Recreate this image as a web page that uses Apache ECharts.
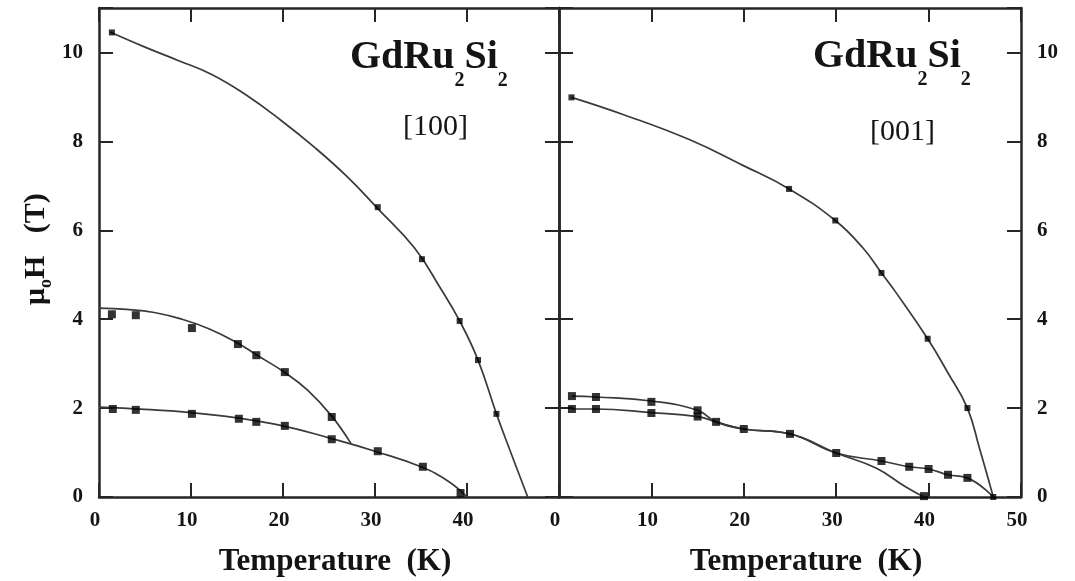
<!DOCTYPE html>
<html>
<head>
<meta charset="utf-8">
<script src="https://cdn.jsdelivr.net/npm/echarts@6/dist/echarts.min.js"></script>
<style>
html, body { margin: 0; padding: 0; background: #fff; }
#main { width: 1075px; height: 581px; }
</style>
</head>
<body>
<div id="main"></div>
<script>
var FONT = '"Liberation Serif", "DejaVu Serif", serif';
var INK = '#141414';
var LINE = '#3a3a3a';

// [100] panel (left)
var leftHighT = [1.4, 30.3, 35.1, 39.2, 41.2, 43.2];
var leftHighH = [10.45, 6.52, 5.35, 3.96, 3.08, 1.87];
var leftHighFitT = [1.2, 5.0, 8.6, 12.2, 15.8, 19.8, 23.4, 27.0, 30.2, 34.3, 37.1, 39.2, 41.2, 43.2, 44.8, 46.6];
var leftHighFitH = [10.46, 10.12, 9.82, 9.51, 9.07, 8.47, 7.87, 7.2, 6.51, 5.6, 4.7, 3.96, 3.08, 1.87, 0.98, 0];

var leftMidT = [1.4, 4.0, 10.1, 15.1, 17.1, 20.2, 25.3];
var leftMidH = [4.11, 4.09, 3.80, 3.44, 3.19, 2.81, 1.80];
var leftMidFitT = [0, 3, 6, 9, 12, 15.1, 17.1, 20.2, 22.7, 25.3, 27.4];
var leftMidFitH = [4.25, 4.22, 4.15, 4.0, 3.78, 3.46, 3.2, 2.8, 2.4, 1.82, 1.2];

var leftLowT = [1.5, 4.0, 10.1, 15.2, 17.1, 20.2, 25.3, 30.3, 35.2, 39.3];
var leftLowH = [1.98, 1.96, 1.87, 1.76, 1.69, 1.60, 1.30, 1.03, 0.68, 0.09];
var leftLowFitT = [0, 5, 10, 15, 20, 25, 30, 35, 38, 40];
var leftLowFitH = [2.02, 1.97, 1.9, 1.78, 1.6, 1.33, 1.03, 0.68, 0.35, 0];

// [001] panel (right)
var rightHighT = [1.35, 24.9, 29.9, 34.9, 39.9, 44.2, 47.0];
var rightHighH = [8.99, 6.93, 6.22, 5.04, 3.56, 2.0, 0.0];
var rightHighFitT = [1.35, 7.0, 14.1, 19.9, 24.9, 29.9, 32.9, 34.9, 36.4, 39.9, 42.1, 44.2, 45.5, 47.0];
var rightHighFitH = [8.99, 8.6, 8.04, 7.46, 6.93, 6.22, 5.6, 5.04, 4.62, 3.56, 2.79, 2.0, 1.1, 0];

var rightUpT = [1.4, 4.0, 10.0, 15.0];
var rightUpH = [2.27, 2.25, 2.14, 1.95];
var rightLoT = [1.4, 4.0, 10.0, 15.0, 39.5];
var rightLoH = [1.98, 1.98, 1.89, 1.81, 0.02];
var rightMidT = [17.0, 20.0, 25.0, 30.0, 34.9, 37.9, 40.0, 42.1, 44.2];
var rightMidH = [1.69, 1.53, 1.42, 0.99, 0.81, 0.68, 0.63, 0.50, 0.43];

var rightUpFitT = [1.4, 4.0, 10.0, 15.0, 17.0, 20.0, 25.0, 30.0, 34.9, 37.9, 40.0, 42.1, 44.2, 47.0];
var rightUpFitH = [2.27, 2.25, 2.16, 1.95, 1.69, 1.53, 1.42, 0.99, 0.81, 0.68, 0.63, 0.50, 0.43, 0];
var rightLoFitT = [1.4, 4.0, 10.0, 15.0, 17.0, 20.0, 25.0, 30.0, 34.3, 37.5, 39.5];
var rightLoFitH = [1.98, 1.98, 1.9, 1.81, 1.69, 1.53, 1.42, 0.99, 0.65, 0.23, 0];

var xTicks = { min: 0, max: 50, interval: 10 };
var yTicks = { min: 0, max: 11, interval: 2 };

function pairs(xs, ys) {
	return xs.map(function (x, i) { return [x, ys[i]]; });
}

var axisLine = { show: true, onZero: false, lineStyle: { color: '#262626', width: 2.5 } };
var axisTick = { show: true, inside: true, length: 14, lineStyle: { color: '#262626', width: 2 } };
var labelStyle = { fontFamily: FONT, fontWeight: 'bold', fontSize: 21, color: INK };

function xAxis(grid, pos, showLabel, hideLast) {
	return {
		type: 'value', gridIndex: grid, position: pos,
		min: xTicks.min, max: xTicks.max, interval: xTicks.interval,
		axisLine: axisLine, axisTick: axisTick, splitLine: { show: false },
		axisLabel: Object.assign({
			show: showLabel, margin: 13, padding: [0, 8, 0, 0],
			formatter: function (v) { return (hideLast && v === 50) ? '' : v; }
		}, labelStyle)
	};
}

function yAxis(grid, pos, showLabel) {
	return {
		type: 'value', gridIndex: grid, position: pos,
		min: yTicks.min, max: yTicks.max, interval: yTicks.interval,
		axisLine: axisLine, axisTick: axisTick, splitLine: { show: false },
		axisLabel: Object.assign({
			show: showLabel, margin: 16,
			formatter: function (v) { return v > 10 ? '' : v; }
		}, labelStyle)
	};
}

function fit(xi, yi, xs, ys) {
	return {
		type: 'line', xAxisIndex: xi, yAxisIndex: yi, data: pairs(xs, ys),
		symbol: 'none', smooth: 0.45, silent: true, z: 2,
		lineStyle: { color: LINE, width: 1.7 }
	};
}

function dots(xi, yi, xs, ys, size) {
	return {
		type: 'scatter', xAxisIndex: xi, yAxisIndex: yi, data: pairs(xs, ys),
		symbol: 'rect', symbolSize: size, silent: true, z: 3,
		itemStyle: { color: '#000' }
	};
}

// text with sub-scripts, laid out by hand from measured widths
var ctx = document.createElement('canvas').getContext('2d');
function fontOf(p) {
	return (p.bold ? 'bold ' : '') + p.size + 'px ' + FONT;
}
function textWidth(parts) {
	var w = 0;
	parts.forEach(function (p) { ctx.font = fontOf(p); w += ctx.measureText(p.t).width; });
	return w;
}
function label(parts, x, baseline, rot) {
	var children = [], cx = 0;
	parts.forEach(function (p) {
		var f = fontOf(p);
		children.push({
			type: 'text', x: cx, y: (p.dy || 0) - 0.32 * p.size,
			style: { text: p.t, font: f, fill: INK, align: 'left', verticalAlign: 'middle' }
		});
		ctx.font = f;
		cx += ctx.measureText(p.t).width;
	});
	return { type: 'group', x: x, y: baseline, rotation: rot || 0, silent: true, children: children };
}

var formula = [
	{ t: 'GdRu', size: 40, bold: true },
	{ t: '2', size: 20, bold: true, dy: 17 },
	{ t: 'Si', size: 40, bold: true },
	{ t: '2', size: 20, bold: true, dy: 17 }
];
var xName = [{ t: 'Temperature  (K)', size: 31, bold: true }];
var yName = [
	{ t: 'μ', size: 30, bold: true },
	{ t: 'o', size: 18, bold: true, dy: 6 },
	{ t: 'H   (T)', size: 30, bold: true }
];

var option = {
	animation: false,
	backgroundColor: '#fff',
	grid: [
		{ left: 99, top: 8, width: 460, height: 489 },
		{ left: 559, top: 8, width: 462, height: 489 }
	],
	xAxis: [
		xAxis(0, 'bottom', true, true),
		xAxis(0, 'top', false, false),
		xAxis(1, 'bottom', true, false),
		xAxis(1, 'top', false, false)
	],
	yAxis: [
		yAxis(0, 'left', true),
		yAxis(0, 'right', false),
		yAxis(1, 'left', false),
		yAxis(1, 'right', true)
	],
	series: [
		fit(0, 0, leftHighFitT, leftHighFitH),
		fit(0, 0, leftMidFitT, leftMidFitH),
		fit(0, 0, leftLowFitT, leftLowFitH),
		dots(0, 0, leftHighT, leftHighH, 6),
		dots(0, 0, leftMidT, leftMidH, 8),
		dots(0, 0, leftLowT, leftLowH, 8),

		fit(2, 3, rightHighFitT, rightHighFitH),
		fit(2, 3, rightUpFitT, rightUpFitH),
		fit(2, 3, rightLoFitT, rightLoFitH),
		dots(2, 3, rightHighT, rightHighH, 6),
		dots(2, 3, rightUpT, rightUpH, 8),
		dots(2, 3, rightLoT, rightLoH, 8),
		dots(2, 3, rightMidT, rightMidH, 8)
	],
	graphic: [
		label(formula, 350, 70),
		label(formula, 813, 69),
		label([{ t: '[100]', size: 30 }], 403, 137),
		label([{ t: '[001]', size: 30 }], 870, 142),
		label(xName, 335 - textWidth(xName) / 2, 572),
		label(xName, 806 - textWidth(xName) / 2, 572),
		label(yName, 46, 305, Math.PI / 2)
	]
};

var myChart = echarts.init(document.getElementById('main'));
myChart.setOption(option);
</script>
</body>
</html>
